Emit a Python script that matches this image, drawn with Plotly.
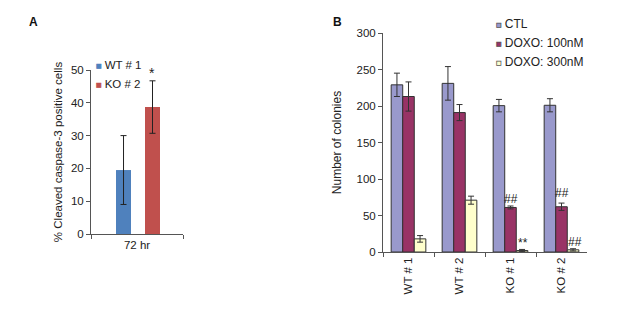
import plotly.graph_objects as go

# ---------- Panel A data ----------
a_category = ["72 hr"]
a_series = ["WT # 1", "KO # 2"]
a_values = [19.5, 38.7]
a_errors = [10.5, 8.0]
a_colors = ["#4F81BD", "#C0504D"]

# ---------- Panel B data ----------
b_categories = ["WT # 1", "WT # 2", "KO # 1", "KO # 2"]
b_series = ["CTL", "DOXO: 100nM", "DOXO: 300nM"]
b_ctl = [229, 231, 200.5, 201]
b_ctl_err = [16, 23, 8.5, 9]
b_doxo100 = [213, 191, 61, 62]
b_doxo100_err = [20, 11, 2, 5]
b_doxo300 = [18, 71, 2, 3]
b_doxo300_err = [4.5, 5.5, 1.5, 1.5]
b_colors = ["#9999CC", "#993366", "#FFFFCC"]

FONT = "Liberation Sans, Arial, sans-serif"
AXIS_COLOR = "#555555"
W, H = 617, 313
OFF = 8  # page body margin of the viewer


def px_x(x):
    return (x - OFF) / W


def px_y(y):
    return 1 - (y - OFF) / H


def legend_label(name, col, stroke):
    return (f"<span style='font-size:9px;fill:{col};stroke:{stroke};stroke-width:0.7px'>■</span>"
            f" {name}")


fig = go.Figure()

# Panel A bars (explicit offsets so layout bargap can serve panel B)
a_offsets = [-0.228, 0.087]
for name, val, err, col, off in zip(a_series, a_values, a_errors, a_colors, a_offsets):
    fig.add_trace(go.Bar(
        x=a_category, y=[val], name=name, marker=dict(color=col, line=dict(width=0)),
        error_y=dict(type="data", array=[err], color="#222222", thickness=1, width=3),
        width=0.163, offset=off, xaxis="x", yaxis="y", showlegend=False,
    ))
    fig.add_trace(go.Scatter(
        x=[None], y=[None], mode="markers", name=legend_label(name, col, col),
        marker=dict(size=1, color="rgba(0,0,0,0)"),
        xaxis="x", yaxis="y", legend="legend",
    ))

# Panel B bars
b_vals = [b_ctl, b_doxo100, b_doxo300]
b_errs = [b_ctl_err, b_doxo100_err, b_doxo300_err]
for name, vals, errs, col in zip(b_series, b_vals, b_errs, b_colors):
    fig.add_trace(go.Bar(
        x=b_categories, y=vals, name=name,
        marker=dict(color=col, line=dict(color="#333333", width=1)),
        error_y=dict(type="data", array=errs, color="#333333", thickness=1, width=3),
        xaxis="x2", yaxis="y2", showlegend=False,
    ))
    fig.add_trace(go.Scatter(
        x=[None], y=[None], mode="markers", name=legend_label(name, col, "#555555"),
        marker=dict(size=1, color="rgba(0,0,0,0)"),
        xaxis="x2", yaxis="y2", legend="legend2",
    ))

annotations = [
    dict(text="<b>A</b>", x=px_x(33), y=px_y(22), xref="paper", yref="paper",
         xanchor="center", yanchor="middle",
         showarrow=False, font=dict(size=12, family=FONT, color="#111")),
    dict(text="<b>B</b>", x=px_x(337), y=px_y(22), xref="paper", yref="paper",
         xanchor="center", yanchor="middle",
         showarrow=False, font=dict(size=12, family=FONT, color="#111")),
    # significance marks
    dict(text="*", x="72 hr", y=49, xref="x", yref="y", xshift=14.5, showarrow=False,
         font=dict(size=14, family=FONT, color="#222")),
    dict(text="##", x="KO # 1", y=73, xref="x2", yref="y2", xshift=0, showarrow=False,
         font=dict(size=12, family=FONT, color="#222")),
    dict(text="**", x="KO # 1", y=12, xref="x2", yref="y2", xshift=12, showarrow=False,
         font=dict(size=12, family=FONT, color="#222")),
    dict(text="##", x="KO # 2", y=81, xref="x2", yref="y2", xshift=0, showarrow=False,
         font=dict(size=12, family=FONT, color="#222")),
    dict(text="##", x="KO # 2", y=14, xref="x2", yref="y2", xshift=13, showarrow=False,
         font=dict(size=12, family=FONT, color="#222")),
]

axis_common = dict(showline=True, linecolor=AXIS_COLOR, linewidth=1, ticks="outside",
                   tickcolor=AXIS_COLOR, ticklen=4, showgrid=False, zeroline=False,
                   automargin=False,
                   tickfont=dict(size=11.5, family=FONT, color="#222"))

fig.update_layout(
    width=W, height=H,
    margin=dict(l=0, r=0, t=0, b=0),
    paper_bgcolor="white", plot_bgcolor="white",
    barmode="group", bargap=0.32, bargroupgap=0,
    font=dict(family=FONT, size=12, color="#222"),
    xaxis=dict(domain=[px_x(91), px_x(183)], anchor="y", type="category",
               tickson="boundaries", **axis_common),
    yaxis=dict(domain=[px_y(234), px_y(70)], anchor="x", range=[0, 50],
               tickvals=[0, 10, 20, 30, 40, 50],
               title=dict(text="% Cleaved caspase-3 positive cells",
                          font=dict(size=11.5, family=FONT, color="#222"), standoff=5),
               **axis_common),
    xaxis2=dict(domain=[px_x(383), px_x(587)], anchor="y2", type="category",
                tickson="boundaries", tickangle=-90, **axis_common),
    yaxis2=dict(domain=[px_y(252), px_y(33)], anchor="x2", range=[0, 300],
                tickvals=[0, 50, 100, 150, 200, 250, 300],
                title=dict(text="Number of colonies",
                           font=dict(size=12, family=FONT, color="#222"), standoff=12),
                **axis_common),
    legend=dict(x=px_x(97 - 41), y=px_y(50), xanchor="left", yanchor="top",
                bgcolor="rgba(0,0,0,0)", font=dict(size=11.5, family=FONT, color="#222"),
                itemwidth=30, tracegroupgap=0, itemclick=False),
    legend2=dict(x=px_x(497 - 41), y=px_y(9), xanchor="left", yanchor="top",
                 bgcolor="rgba(0,0,0,0)", font=dict(size=12, family=FONT, color="#222"),
                 itemwidth=30, tracegroupgap=0, itemclick=False),
    annotations=annotations,
)

fig.write_html("out.html")
